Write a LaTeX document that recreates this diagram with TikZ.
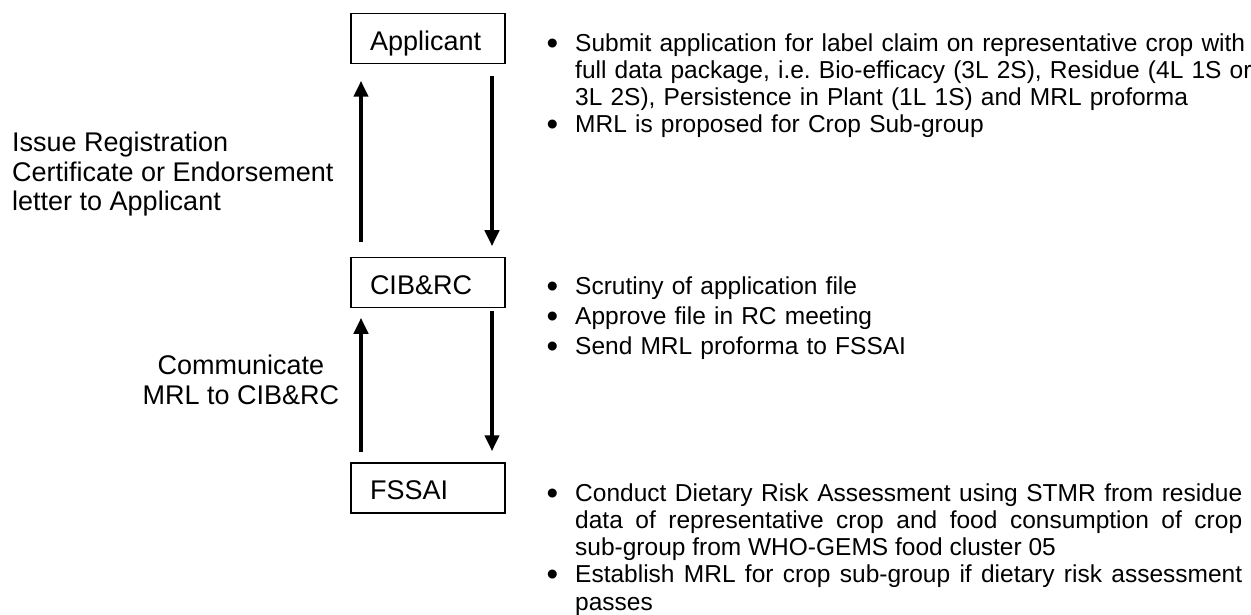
\documentclass[tikz,border=0pt]{standalone}
\usepackage{fontspec}
\setmainfont{Liberation Sans}
\usetikzlibrary{arrows.meta}

% bullet list used in the text blocks on the right
\newcommand{\bigdot}{\raisebox{-3bp}{\scalebox{1.35}{\textbullet}}}
\newenvironment{bulletlist}{%
  \begin{list}{\bigdot}{%
    \setlength{\leftmargin}{29bp}\setlength{\labelsep}{17bp}%
    \setlength{\labelwidth}{12bp}\setlength{\itemsep}{0pt}%
    \setlength{\parsep}{0pt}\setlength{\topsep}{0pt}\setlength{\partopsep}{0pt}}}%
  {\end{list}}
\hyphenpenalty=10000
\exhyphenpenalty=10000
\tolerance=10000
\frenchspacing

\begin{document}
\begin{tikzpicture}[x=1bp, y=-1bp,
  box/.style={draw, line width=1.5bp, minimum width=154bp, minimum height=50bp,
    inner xsep=19bp, text width=116bp, align=left, text height=23.4bp, text depth=0pt,
    font=\fontsize{27bp}{30bp}\selectfont},
  flow/.style={line width=4.5bp, -{Triangle[length=16bp, width=14bp]}},
  side/.style={inner sep=0pt, font=\fontsize{27bp}{29.5bp}\selectfont},
  bullets/.style={anchor=north west, inner sep=0pt, text width=703bp,
    font=\fontsize{24.5bp}{27bp}\selectfont}]
  \useasboundingbox (0,0) rectangle (1251,615);

  % Draw the three boxes:
  \node[box] (app) at (428,38.5) {Applicant};
  \node[box] (cib) at (428,282.5) {CIB\&RC};
  \node[box] (fssai) at (428,488) {FSSAI};

  % Arrows between the boxes (up on the left, down on the right)
  \draw[flow] ([xshift=-67bp,yshift=14.5bp]cib.north) -- ([xshift=-67bp,yshift=-16.5bp]app.south);
  \draw[flow] ([xshift=64bp,yshift=-11.5bp]app.south) -- ([xshift=64bp,yshift=10.5bp]cib.north);
  \draw[flow] ([xshift=-67bp,yshift=10bp]fssai.north) -- ([xshift=-67bp,yshift=-9.5bp]cib.south);
  \draw[flow] ([xshift=64bp,yshift=-2.5bp]cib.south) -- ([xshift=64bp,yshift=11bp]fssai.north);

  % Labels on the left
  \node[side, anchor=north west, align=left] (issue) at (12,132)
    {Issue Registration\\Certificate or Endorsement\\letter to Applicant};
  \node[side, anchor=north, align=center] (comm) at (241,355)
    {Communicate\\MRL to CIB\&RC};

  % Text blocks on the right
  \node[bullets, align=left, text width=711bp] (apptext) at (546,24) {%
    \begin{bulletlist}
    \item Submit application for label claim on representative crop with full data package, i.e. Bio-efficacy (3L 2S), Residue (4L 1S or 3L 2S), Persistence in Plant (1L 1S) and MRL proforma
    \item MRL is proposed for Crop Sub-group
    \end{bulletlist}};
  \node[bullets, align=left, font=\fontsize{24.5bp}{30bp}\selectfont] (cibtext) at (546,264) {%
    \begin{bulletlist}
    \item Scrutiny of application file
    \item Approve file in RC meeting
    \item Send MRL proforma to FSSAI
    \end{bulletlist}};
  \node[bullets, align=justify, text width=696bp, font=\fontsize{24.5bp}{27.2bp}\selectfont] (fssaitext) at (546,473.8) {%
    \begin{bulletlist}
    \item Conduct Dietary Risk Assessment using STMR from residue data of representative crop and food consumption of crop sub-group from WHO-GEMS food cluster 05
    \item Establish MRL for crop sub-group if dietary risk assessment passes
    \end{bulletlist}};

\end{tikzpicture}
\end{document}
